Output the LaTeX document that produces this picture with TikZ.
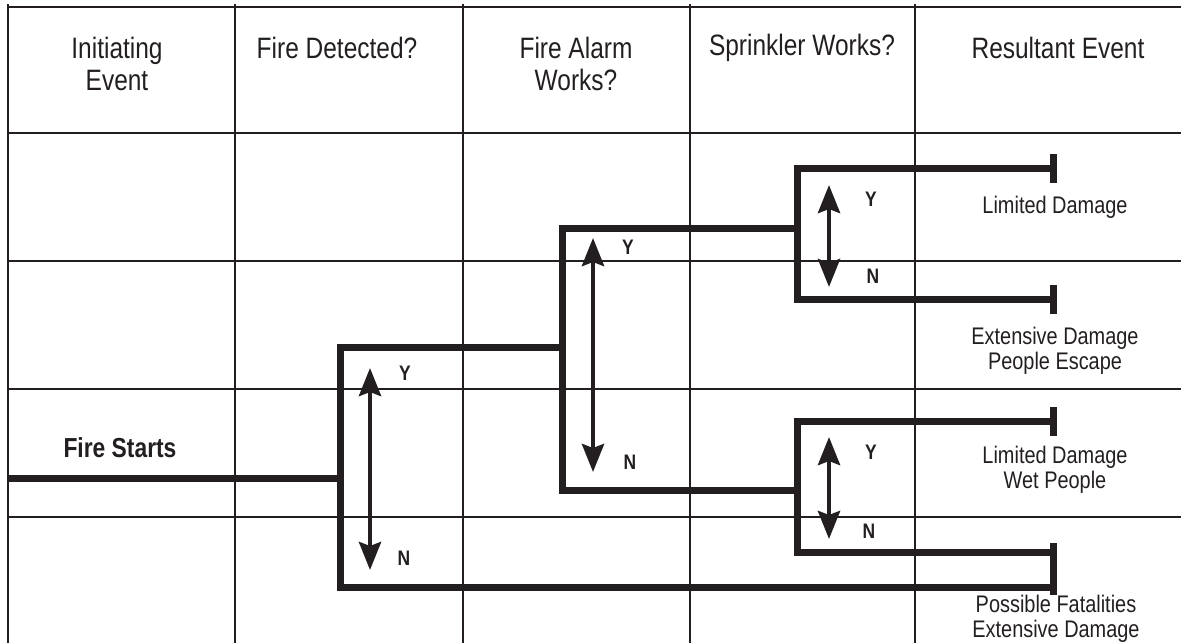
\documentclass[tikz,border=0pt]{standalone}
\usepackage{fontspec}
\setmainfont{Liberation Sans}[FakeStretch=0.83]
\usepackage{xcolor}
\usepackage{tikz}
\usetikzlibrary{arrows.meta, positioning, calc}
\definecolor{ink}{HTML}{231F20}

\begin{document}
\begin{tikzpicture}[x=1pt, y=-1pt, thick]
    \tikzstyle{grid} = [draw=ink, line width=2.7pt]
    \tikzstyle{head} = [text=ink, align=center, inner sep=0pt, font=\fontsize{29.5}{32}\selectfont]
    \tikzstyle{outcome} = [text=ink, align=center, inner sep=0pt, font=\fontsize{24}{25}\selectfont]
    \tikzstyle{answer} = [text=ink, inner sep=0pt, font=\bfseries\fontsize{21}{22}\selectfont]
    \tikzstyle{branch} = [draw=ink, line width=7pt, line join=miter]
    \tikzstyle{tee} = [draw=ink, line width=7pt]
    \tikzstyle{choice} = [draw=ink, line width=4.5pt, {Stealth[length=28pt,width=22pt,inset=4pt]}-{Stealth[length=28pt,width=22pt,inset=4pt]}]

    \useasboundingbox (0,0) rectangle (1181,643);

    % table
    \path [grid] (8,7) -- (1181,7) (8,133) -- (1181,133) (8,261) -- (1181,261)
                 (8,389) -- (1181,389) (8,517) -- (1181,517);
    \path [grid] (8,4) -- (8,643) (235,4) -- (235,643) (463,4) -- (463,643)
                 (690,4) -- (690,643) (915,4) -- (915,643);

    \node [head] (initiating) at (117,64) {Initiating\\Event};
    \node [head] (detected) at (337,48) {Fire Detected?};
    \node [head] (alarm) at (576,64) {Fire Alarm\\Works?};
    \node [head] (sprinkler) at (802,48) {Sprinkler Works?};
    \node [head] (resultant) at (1058,48) {Resultant Event};

    \node [text=ink, inner sep=0pt, font=\bfseries\fontsize{27.5}{29}\selectfont] (fire) at (120,448) {Fire Starts};

    % branch points
    \coordinate (start) at (8,478);
    \coordinate (det) at (340,478);
    \coordinate (detY) at (340,347);
    \coordinate (detN) at (340,587);
    \coordinate (alm) at (562,347);
    \coordinate (almY) at (562,228);
    \coordinate (almN) at (562,490);
    \coordinate (spA) at (797,228);
    \coordinate (spAY) at (797,168);
    \coordinate (spAN) at (797,299);
    \coordinate (spB) at (797,490);
    \coordinate (spBY) at (797,421);
    \coordinate (spBN) at (797,552);
    \coordinate (endA) at (1053,168);
    \coordinate (endB) at (1053,299);
    \coordinate (endC) at (1053,421);
    \coordinate (endD) at (1053,552);
    \coordinate (endE) at (1053,587);

    \path [branch] (start) -- (det);
    \path [branch] (alm) -- (detY) -- (detN) -- (endE);
    \path [branch] (spA) -- (almY) -- (almN) -- (spB);
    \path [branch] (endA) -- (spAY) -- (spAN) -- (endB);
    \path [branch] (endC) -- (spBY) -- (spBN) -- (endD);

    \path [tee] ($(endA)+(0,-14)$) -- ($(endA)+(0,15)$);
    \path [tee] ($(endB)+(0,-14)$) -- ($(endB)+(0,15)$);
    \path [tee] ($(endC)+(0,-14)$) -- ($(endC)+(0,15)$);
    \path [tee] ($(endD)+(0,-9)$) -- ($(endE)+(0,8)$);

    % yes / no arrows
    \coordinate (detUp) at (370,368);
    \coordinate (detDown) at (370,570);
    \coordinate (almUp) at (593,238);
    \coordinate (almDown) at (593,472);
    \coordinate (spAUp) at (829,185);
    \coordinate (spADown) at (829,287);
    \coordinate (spBUp) at (829,437);
    \coordinate (spBDown) at (829,539);

    \path [choice] (detUp) -- (detDown);
    \path [choice] (almUp) -- (almDown);
    \path [choice] (spAUp) -- (spADown);
    \path [choice] (spBUp) -- (spBDown);

    \node [answer] (detYes) at (405,373) {Y};
    \node [answer] (detNo) at (404,558) {N};
    \node [answer] (almYes) at (628,247) {Y};
    \node [answer] (almNo) at (630,462) {N};
    \node [answer] (spAYes) at (871,199) {Y};
    \node [answer] (spANo) at (873,276) {N};
    \node [answer] (spBYes) at (871,452) {Y};
    \node [answer] (spBNo) at (869,531) {N};

    \node [outcome] (limited) at (1055,207) {Limited Damage};
    \node [outcome] (escape) at (1055,351) {Extensive Damage\\People Escape};
    \node [outcome] (wet) at (1055,470) {Limited Damage\\Wet People};
    \node [outcome] (fatal) at (1056,619) {Possible Fatalities\\Extensive Damage};
\end{tikzpicture}
\end{document}
